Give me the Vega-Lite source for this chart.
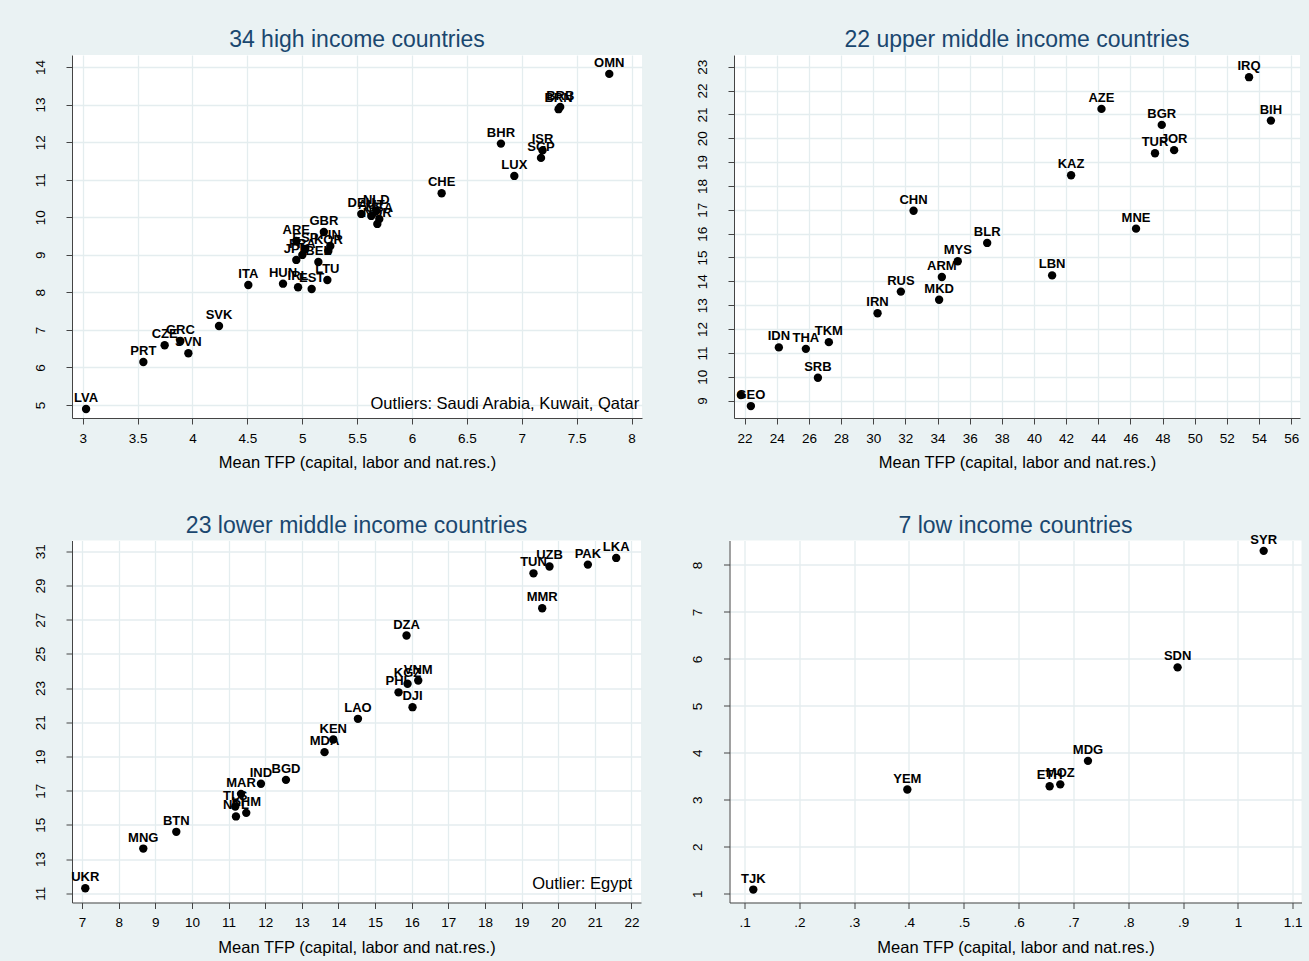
{
  "$schema": "https://vega.github.io/schema/vega-lite/v6.json",
  "background": "#EAF2F3",
  "padding": {"left": 32, "top": 29, "right": 8, "bottom": 8},
  "datasets": {
    "hi": [
      {"c": "OMN", "x": 7.797, "y": 13.817},
      {"c": "BRN", "x": 7.335, "y": 12.877},
      {"c": "BRB", "x": 7.350, "y": 12.938},
      {"c": "BHR", "x": 6.810, "y": 11.961},
      {"c": "ISR", "x": 7.189, "y": 11.780},
      {"c": "SGP", "x": 7.175, "y": 11.580},
      {"c": "LUX", "x": 6.932, "y": 11.100},
      {"c": "CHE", "x": 6.270, "y": 10.639},
      {"c": "DEU", "x": 5.538, "y": 10.088},
      {"c": "NLD", "x": 5.675, "y": 10.167},
      {"c": "AUT", "x": 5.629, "y": 10.035},
      {"c": "USA", "x": 5.702, "y": 9.955},
      {"c": "NOR", "x": 5.684, "y": 9.822},
      {"c": "GBR", "x": 5.197, "y": 9.608},
      {"c": "ARE", "x": 4.946, "y": 9.369},
      {"c": "ESP", "x": 5.028, "y": 9.156},
      {"c": "KOR", "x": 5.238, "y": 9.103},
      {"c": "FIN", "x": 5.256, "y": 9.236},
      {"c": "JPN", "x": 4.946, "y": 8.863},
      {"c": "FRA", "x": 5.001, "y": 8.996},
      {"c": "BEL", "x": 5.147, "y": 8.809},
      {"c": "LTU", "x": 5.229, "y": 8.330},
      {"c": "HUN", "x": 4.825, "y": 8.231},
      {"c": "IRL", "x": 4.962, "y": 8.135},
      {"c": "EST", "x": 5.086, "y": 8.090},
      {"c": "ITA", "x": 4.509, "y": 8.197},
      {"c": "SVK", "x": 4.242, "y": 7.104},
      {"c": "GRC", "x": 3.890, "y": 6.705},
      {"c": "CZE", "x": 3.747, "y": 6.590},
      {"c": "SVN", "x": 3.963, "y": 6.377},
      {"c": "PRT", "x": 3.553, "y": 6.145},
      {"c": "LVA", "x": 3.031, "y": 4.893}
    ],
    "um": [
      {"c": "IRQ", "x": 53.38, "y": 22.56},
      {"c": "AZE", "x": 44.20, "y": 21.23},
      {"c": "BGR", "x": 47.95, "y": 20.56},
      {"c": "BIH", "x": 54.74, "y": 20.74},
      {"c": "TUR", "x": 47.53, "y": 19.37},
      {"c": "JOR", "x": 48.72, "y": 19.50},
      {"c": "KAZ", "x": 42.31, "y": 18.45},
      {"c": "CHN", "x": 32.51, "y": 16.96},
      {"c": "MNE", "x": 46.35, "y": 16.21},
      {"c": "BLR", "x": 37.09, "y": 15.61},
      {"c": "MYS", "x": 35.26, "y": 14.84},
      {"c": "ARM", "x": 34.27, "y": 14.18},
      {"c": "LBN", "x": 41.13, "y": 14.25},
      {"c": "RUS", "x": 31.72, "y": 13.57},
      {"c": "MKD", "x": 34.10, "y": 13.23},
      {"c": "IRN", "x": 30.27, "y": 12.66},
      {"c": "IDN", "x": 24.13, "y": 11.23},
      {"c": "THA", "x": 25.81, "y": 11.17},
      {"c": "TKM", "x": 27.24, "y": 11.45},
      {"c": "SRB", "x": 26.56, "y": 9.96},
      {"c": "GEO", "x": 22.39, "y": 8.77},
      {"c": "", "x": 21.77, "y": 9.23}
    ],
    "lm": [
      {"c": "UKR", "x": 7.09, "y": 11.29},
      {"c": "MNG", "x": 8.673, "y": 13.61},
      {"c": "BTN", "x": 9.574, "y": 14.59},
      {"c": "MAR", "x": 11.340, "y": 16.81},
      {"c": "IND", "x": 11.885, "y": 17.40},
      {"c": "BGD", "x": 12.568, "y": 17.63},
      {"c": "TLS", "x": 11.184, "y": 16.07},
      {"c": "NPL", "x": 11.203, "y": 15.49},
      {"c": "KHM", "x": 11.484, "y": 15.70},
      {"c": "MDA", "x": 13.621, "y": 19.25},
      {"c": "KEN", "x": 13.859, "y": 19.99},
      {"c": "LAO", "x": 14.533, "y": 21.20},
      {"c": "DJI", "x": 16.023, "y": 21.88},
      {"c": "PHL", "x": 15.641, "y": 22.75},
      {"c": "KGZ", "x": 15.887, "y": 23.25},
      {"c": "VNM", "x": 16.179, "y": 23.44},
      {"c": "DZA", "x": 15.859, "y": 26.07},
      {"c": "TUN", "x": 19.325, "y": 29.71},
      {"c": "UZB", "x": 19.762, "y": 30.11},
      {"c": "PAK", "x": 20.810, "y": 30.22},
      {"c": "LKA", "x": 21.583, "y": 30.61},
      {"c": "MMR", "x": 19.563, "y": 27.67}
    ],
    "lo": [
      {"c": "SYR", "x": 1.047, "y": 8.30},
      {"c": "SDN", "x": 0.890, "y": 5.82},
      {"c": "MDG", "x": 0.7265, "y": 3.83},
      {"c": "ETH", "x": 0.6566, "y": 3.29},
      {"c": "MOZ", "x": 0.676, "y": 3.33},
      {"c": "YEM", "x": 0.397, "y": 3.22},
      {"c": "TJK", "x": 0.116, "y": 1.09}
    ]
  },
  "config": {
    "font": "Liberation Sans",
    "view": {"fill": "white", "stroke": null},
    "axis": {
      "grid": true, "gridColor": "#E4EDEF", "gridWidth": 1.3,
      "domainColor": "#444444", "tickColor": "#444444", "tickSize": 6,
      "labelColor": "black", "labelFont": "Liberation Sans", "labelFontSize": 13.5,
      "titleFont": "Liberation Sans", "titleFontSize": 16.5, "titleFontWeight": "normal", "titleColor": "black",
      "labelFlush": false, "labelOverlap": false
    },
    "axisX": {"labelPadding": 7, "titlePadding": 10},
    "axisY": {"labelAngle": -90, "labelPadding": 19, "title": null},
    "title": {"fontSize": 23, "fontWeight": "normal", "color": "#1A476F", "font": "Liberation Sans", "offset": 3, "frame": "group"},
    "circle": {"size": 70, "opacity": 1, "color": "black"},
    "text": {"font": "Liberation Sans", "color": "black"}
  },
  "spacing": 43.5,
  "vconcat": [
    {
      "spacing": 52,
      "hconcat": [
        {
          "width": 570, "height": 363,
          "title": "34 high income countries",
          "data": {"name": "hi"},
          "encoding": {
            "x": {"field": "x", "type": "quantitative", "scale": {"domain": [2.903, 8.095], "nice": false, "zero": false},
                  "axis": {"values": [3, 3.5, 4, 4.5, 5, 5.5, 6, 6.5, 7, 7.5, 8], "format": "~g", "title": "Mean TFP (capital, labor and nat.res.)"}},
            "y": {"field": "y", "type": "quantitative", "scale": {"domain": [4.654, 14.32], "nice": false, "zero": false},
                  "axis": {"values": [5, 6, 7, 8, 9, 10, 11, 12, 13, 14], "format": "~g"}}
          },
          "layer": [
            {"mark": {"type": "circle"}},
            {"mark": {"type": "text", "fontWeight": "bold", "fontSize": 13, "baseline": "alphabetic", "dy": -7}, "encoding": {"text": {"field": "c"}}},
            {"data": {"values": [{"x": 8.07, "y": 5.03, "t": "Outliers: Saudi Arabia, Kuwait, Qatar"}]},
             "mark": {"type": "text", "align": "right", "baseline": "middle", "fontSize": 16.5}, "encoding": {"text": {"field": "t"}}}
          ]
        },
        {
          "width": 566, "height": 363,
          "title": "22 upper middle income countries",
          "data": {"name": "um"},
          "encoding": {
            "x": {"field": "x", "type": "quantitative", "scale": {"domain": [21.34, 56.55], "nice": false, "zero": false},
                  "axis": {"values": [22, 24, 26, 28, 30, 32, 34, 36, 38, 40, 42, 44, 46, 48, 50, 52, 54, 56], "format": "~g", "title": "Mean TFP (capital, labor and nat.res.)"}},
            "y": {"field": "y", "type": "quantitative", "scale": {"domain": [8.27, 23.49], "nice": false, "zero": false},
                  "axis": {"values": [9, 10, 11, 12, 13, 14, 15, 16, 17, 18, 19, 20, 21, 22, 23], "format": "~g"}}
          },
          "layer": [
            {"mark": {"type": "circle"}},
            {"mark": {"type": "text", "fontWeight": "bold", "fontSize": 13, "baseline": "alphabetic", "dy": -7}, "encoding": {"text": {"field": "c"}}}
          ]
        }
      ]
    },
    {
      "spacing": 49.5,
      "hconcat": [
        {
          "width": 569, "height": 362,
          "title": "23 lower middle income countries",
          "data": {"name": "lm"},
          "encoding": {
            "x": {"field": "x", "type": "quantitative", "scale": {"domain": [6.727, 22.26], "nice": false, "zero": false},
                  "axis": {"values": [7, 8, 9, 10, 11, 12, 13, 14, 15, 16, 17, 18, 19, 20, 21, 22], "format": "~g", "title": "Mean TFP (capital, labor and nat.res.)"}},
            "y": {"field": "y", "type": "quantitative", "scale": {"domain": [10.456, 31.63], "nice": false, "zero": false},
                  "axis": {"values": [11, 13, 15, 17, 19, 21, 23, 25, 27, 29, 31], "format": "~g"}}
          },
          "layer": [
            {"mark": {"type": "circle"}},
            {"mark": {"type": "text", "fontWeight": "bold", "fontSize": 13, "baseline": "alphabetic", "dy": -7}, "encoding": {"text": {"field": "c"}}},
            {"data": {"values": [{"x": 22.02, "y": 11.51, "t": "Outlier: Egypt"}]},
             "mark": {"type": "text", "align": "right", "baseline": "middle", "fontSize": 16.5}, "encoding": {"text": {"field": "t"}}}
          ]
        },
        {
          "width": 572, "height": 362,
          "title": {"text": "7 low income countries", "dy": 7},
          "data": {"name": "lo"},
          "encoding": {
            "x": {"field": "x", "type": "quantitative", "scale": {"domain": [0.0726, 1.116], "nice": false, "zero": false},
                  "axis": {"values": [0.1, 0.2, 0.3, 0.4, 0.5, 0.6, 0.7, 0.8, 0.9, 1, 1.1],
                           "labelExpr": "datum.value < 0.95 ? replace(format(datum.value, '.1f'), '0.', '.') : format(datum.value, '~g')",
                           "title": "Mean TFP (capital, labor and nat.res.)"}},
            "y": {"field": "y", "type": "quantitative", "scale": {"domain": [0.815, 8.52], "nice": false, "zero": false},
                  "axis": {"values": [1, 2, 3, 4, 5, 6, 7, 8], "format": "~g"}}
          },
          "layer": [
            {"mark": {"type": "circle"}},
            {"mark": {"type": "text", "fontWeight": "bold", "fontSize": 13, "baseline": "alphabetic", "dy": -7}, "encoding": {"text": {"field": "c"}}}
          ]
        }
      ]
    }
  ]
}
